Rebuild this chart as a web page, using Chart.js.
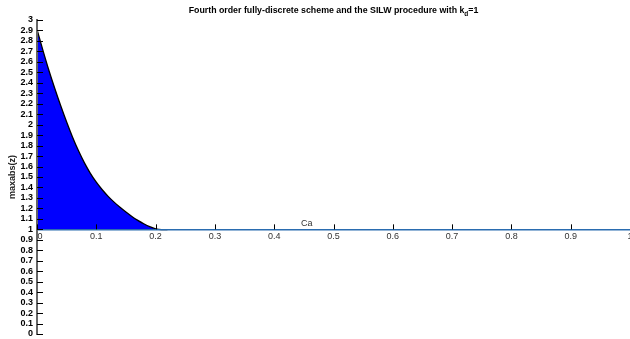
<!DOCTYPE html>
<html>
<head>
<meta charset="utf-8">
<script src="https://cdn.jsdelivr.net/npm/chart.js@4/dist/chart.umd.min.js"></script>
<style>
  html, body { margin: 0; padding: 0; background: #ffffff; }
  #wrap { width: 630px; height: 339px; position: relative; }
</style>
</head>
<body>
<div id="wrap"><canvas id="c" width="630" height="339"></canvas></div>
<script>
// Courant number samples and the largest amplification modulus at each
const caValues = [0, 0.01, 0.02, 0.03, 0.04, 0.05, 0.06, 0.07, 0.08, 0.09, 0.10,
                  0.11, 0.12, 0.13, 0.14, 0.15, 0.16, 0.17, 0.18, 0.19, 0.20,
                  0.21, 0.22];
const maxAbsZ = [2.91, 2.71, 2.52, 2.345, 2.18, 2.025, 1.88, 1.75, 1.635, 1.535, 1.45,
                 1.378, 1.315, 1.26, 1.21, 1.165, 1.123, 1.086, 1.053, 1.025, 1.005,
                 0.998, 0.998];
const xTickValues = [0, 0.1, 0.2, 0.3, 0.4, 0.5, 0.6, 0.7, 0.8, 0.9, 1];

const titleMain = 'Fourth order fully-discrete scheme and the SILW procedure with k';
const titleSub = 'd';
const titleTail = '=1';
const xAxisLabel = 'Ca';
const yAxisLabel = 'maxabs(z)';

const FONT = '"Liberation Sans", Arial, Helvetica, sans-serif';
const fmt = v => String(Number(Number(v).toFixed(1)));

// tick marks drawn inward, the Ca tick labels and caption, and the title with subscript
const decorations = {
  id: 'decorations',
  afterDraw(chart) {
    const { ctx, chartArea, scales: { x, y } } = chart;
    ctx.save();
    ctx.strokeStyle = '#000';
    ctx.lineWidth = 1;
    ctx.beginPath();
    y.ticks.forEach(t => {
      const py = Math.round(y.getPixelForValue(t.value)) + 0.5;
      ctx.moveTo(chartArea.left, py);
      ctx.lineTo(chartArea.left + 6, py);
    });
    const ay = y.getPixelForValue(1);
    xTickValues.forEach(v => {
      const px = Math.round(x.getPixelForValue(v)) + 0.5;
      ctx.moveTo(px, ay);
      ctx.lineTo(px, ay - 5);
    });
    ctx.stroke();

    // labels along the Ca axis
    ctx.fillStyle = '#333';
    ctx.font = '9px ' + FONT;
    ctx.textAlign = 'center';
    ctx.textBaseline = 'top';
    xTickValues.forEach(v => {
      let px = x.getPixelForValue(v);
      if (v === 0) px += 3;
      ctx.fillText(fmt(v), px, ay + 3);
    });

    // axis caption sitting on the Ca axis
    ctx.textBaseline = 'alphabetic';
    ctx.fillText(xAxisLabel, x.getPixelForValue(0.455), ay - 3);

    // title with subscript
    const cx = (chartArea.left + chartArea.right) / 2;
    const base = 13;
    ctx.fillStyle = '#000';
    ctx.textAlign = 'left';
    const mainFont = 'bold 8.8px ' + FONT;
    const subFont = 'bold 6.5px ' + FONT;
    ctx.font = mainFont;
    const w1 = ctx.measureText(titleMain).width;
    const w3 = ctx.measureText(titleTail).width;
    ctx.font = subFont;
    const w2 = ctx.measureText(titleSub).width;
    let tx = cx - (w1 + w2 + w3) / 2;
    ctx.font = mainFont;
    ctx.fillText(titleMain, tx, base);
    tx += w1;
    ctx.font = subFont;
    ctx.fillText(titleSub, tx, base + 3);
    tx += w2;
    ctx.font = mainFont;
    ctx.fillText(titleTail, tx, base);
    ctx.restore();
  }
};

new Chart(document.getElementById('c'), {
  type: 'line',
  data: {
    datasets: [{
      data: caValues.map((c, i) => ({ x: c, y: maxAbsZ[i] })),
      borderColor: '#000000',
      borderWidth: 1.3,
      backgroundColor: '#0000ff',
      fill: { value: 1 },
      pointRadius: 0,
      cubicInterpolationMode: 'monotone'
    }]
  },
  options: {
    responsive: false,
    animation: false,
    devicePixelRatio: 1,
    layout: { padding: { left: 0, right: 0, top: 20, bottom: 5 } },
    plugins: { legend: { display: false }, tooltip: { enabled: false }, title: { display: false } },
    scales: {
      x: {
        type: 'linear',
        min: 0,
        max: 1,
        position: { y: 1 },
        afterFit(s) { s.height = 0; s.paddingLeft = 0; s.paddingRight = 0; },
        grid: { display: false, drawTicks: false },
        border: { display: true, color: '#2a6cb0', width: 1.5, z: 1 },
        ticks: { display: false, stepSize: 0.1 }
      },
      y: {
        type: 'linear',
        min: 0,
        max: 3,
        position: 'left',
        afterFit(s) { s.width = 37; s.paddingTop = 0; s.paddingBottom = 0; },
        grid: { display: false, drawTicks: false },
        border: { display: true, color: '#666', width: 2, z: 1 },
        ticks: {
          stepSize: 0.1,
          padding: 4,
          autoSkip: false,
          color: '#000',
          font: { family: FONT, size: 9, weight: 'bold' },
          callback: v => fmt(v)
        },
        title: {
          display: true,
          text: yAxisLabel,
          color: '#222',
          font: { family: FONT, size: 9, weight: 'bold' },
          padding: { top: 7, bottom: 0 }
        }
      }
    }
  },
  plugins: [decorations]
});
</script>
</body>
</html>
